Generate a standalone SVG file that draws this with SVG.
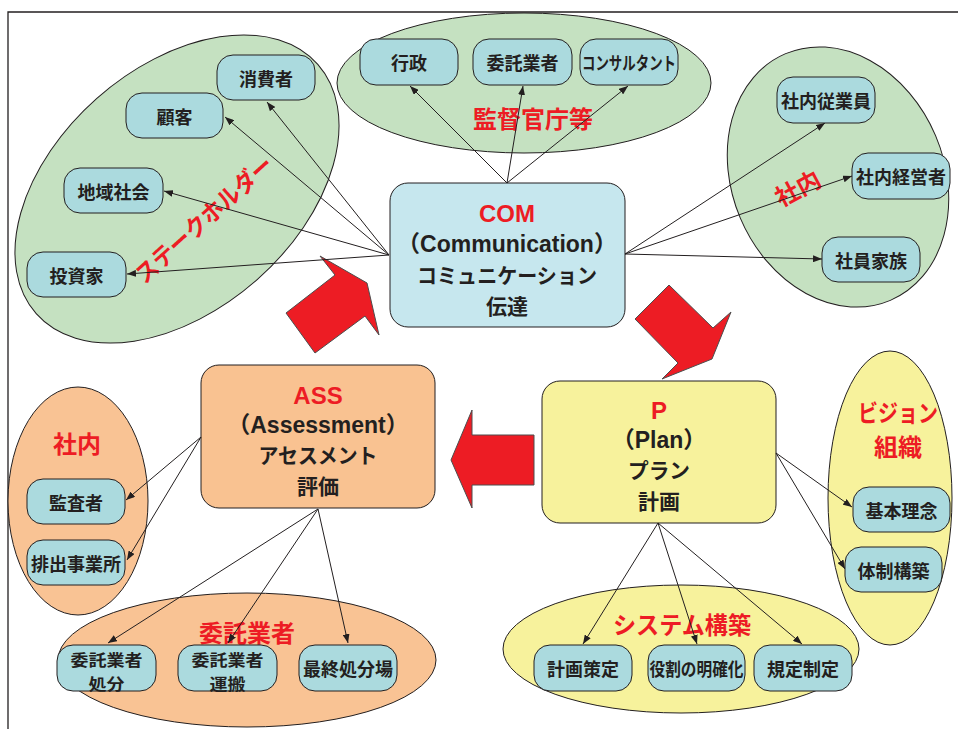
<svg xmlns="http://www.w3.org/2000/svg" width="958" height="729" viewBox="0 0 958 729">
  <defs>
    <marker id="ah" viewBox="0 0 9 7" refX="9" refY="3.5" markerWidth="9" markerHeight="7" orient="auto" markerUnits="userSpaceOnUse">
      <path d="M0,0 L9,3.5 L0,7 z" fill="#231F20"/>
    </marker>
    <style>
      .frame{fill:none;stroke:#231F20;stroke-width:1.3}
      .grp-g{fill:#C5E1C1;stroke:#231F20;stroke-width:1}
      .grp-o{fill:#F9C394;stroke:#231F20;stroke-width:1}
      .grp-y{fill:#F7F29C;stroke:#231F20;stroke-width:1}
      .node rect{fill:#ABDADE;stroke:#231F20;stroke-width:1}
      .node text{font-family:"Noto Sans CJK JP",sans-serif;font-weight:700;font-size:18px;fill:#231F20;text-anchor:middle;dominant-baseline:central}
      .node text.two{font-size:16px}
      .hub rect{stroke:#231F20;stroke-width:1}
      .hub text{font-family:"Liberation Sans","Noto Sans CJK JP",sans-serif;font-weight:700;font-size:23px;fill:#231F20;text-anchor:middle;dominant-baseline:central}
      .hub text.jp{font-family:"Noto Sans CJK JP",sans-serif;font-size:21px}
      .hub text.key{fill:#ED1C24;font-size:24px}
      .lab{font-family:"Noto Sans CJK JP",sans-serif;font-weight:700;font-size:24px;fill:#ED1C24;text-anchor:middle;dominant-baseline:central}
      .conn line{stroke:#231F20;stroke-width:1;marker-end:url(#ah)}
      .big{fill:#ED1C24;stroke:#4D4D4D;stroke-width:1}
    </style>
  </defs>

  <rect width="958" height="729" fill="#FFFFFF"/>
  <path class="frame" d="M8,729 L8,12 L958,12"/>

  <!-- grouping ellipses -->
  <g id="groups">
    <ellipse class="grp-g" cx="177" cy="189" rx="188" ry="121" transform="rotate(-41.5 177 189)"/>
    <ellipse class="grp-g" cx="524" cy="83" rx="187" ry="70"/>
    <ellipse class="grp-g" cx="838" cy="177" rx="106" ry="134" transform="rotate(-23 838 177)"/>
    <ellipse class="grp-o" cx="78" cy="501" rx="70" ry="114"/>
    <ellipse class="grp-o" cx="247" cy="660" rx="189" ry="67"/>
    <ellipse class="grp-y" cx="890" cy="498" rx="62" ry="147"/>
    <ellipse class="grp-y" cx="681" cy="649" rx="178" ry="64"/>
  </g>

  <!-- group labels -->
  <g id="labels">
    <text class="lab" x="203" y="218" textLength="176" lengthAdjust="spacingAndGlyphs" transform="rotate(-42 203 218)">ステークホルダー</text>
    <text class="lab" x="533" y="117">監督官庁等</text>
    <text class="lab" x="797" y="187" font-size="22" transform="rotate(-28 797 187)">社内</text>
    <text class="lab" x="77" y="442">社内</text>
    <text class="lab" x="247" y="631" font-size="23">委託業者</text>
    <text class="lab" x="898" y="411" font-size="23" textLength="80" lengthAdjust="spacingAndGlyphs">ビジョン</text>
    <text class="lab" x="898" y="445" font-size="23">組織</text>
    <text class="lab" x="682" y="623" textLength="138" lengthAdjust="spacingAndGlyphs">システム構築</text>
  </g>

  <!-- cycle arrows -->
  <g id="cycle">
    <polygon class="big" points="320,256 367,283 379,335 365,316 315,353 286,313 335,275"/>
    <polygon class="big" points="669,285 713,328 731,312 712,359 662,379 678,363 635,319"/>
    <polygon class="big" points="451,460 472,410 472,435 534,435 534,485 472,485 472,508"/>
  </g>

  <!-- hubs -->
  <g id="com" class="hub">
    <rect x="390" y="183" width="235" height="144" rx="18" fill="#C6E7EE"/>
    <text class="key" x="507" y="213">COM</text>
    <text x="507" y="244">（Communication）</text>
    <text class="jp" x="507" y="274" textLength="180" lengthAdjust="spacingAndGlyphs">コミュニケーション</text>
    <text class="jp" x="507" y="305">伝達</text>
  </g>
  <g id="ass" class="hub">
    <rect x="201" y="365" width="234" height="143" rx="18" fill="#F9C291"/>
    <text class="key" x="318" y="395">ASS</text>
    <text x="318" y="425">（Assessment）</text>
    <text class="jp" x="318" y="454" textLength="119" lengthAdjust="spacingAndGlyphs">アセスメント</text>
    <text class="jp" x="318" y="485">評価</text>
  </g>
  <g id="plan" class="hub">
    <rect x="542" y="381" width="234" height="142" rx="18" fill="#F7F29C"/>
    <text class="key" x="659" y="410">P</text>
    <text x="659" y="440">（Plan）</text>
    <text class="jp" x="659" y="469" textLength="62" lengthAdjust="spacingAndGlyphs">プラン</text>
    <text class="jp" x="659" y="500">計画</text>
  </g>

  <!-- connectors -->
  <g id="connectors" class="conn">
    <line x1="389" y1="255" x2="267" y2="102"/>
    <line x1="389" y1="255" x2="225" y2="117"/>
    <line x1="389" y1="255" x2="164" y2="191"/>
    <line x1="389" y1="255" x2="127" y2="274"/>
    <line x1="507" y1="183" x2="410" y2="86"/>
    <line x1="507" y1="183" x2="523" y2="86"/>
    <line x1="507" y1="183" x2="628" y2="86"/>
    <line x1="625" y1="254" x2="825" y2="123"/>
    <line x1="625" y1="254" x2="852" y2="176"/>
    <line x1="625" y1="254" x2="822" y2="259"/>
    <line x1="201" y1="437" x2="126" y2="500"/>
    <line x1="201" y1="437" x2="127" y2="560"/>
    <line x1="318" y1="509" x2="108" y2="643"/>
    <line x1="318" y1="509" x2="228" y2="643"/>
    <line x1="318" y1="509" x2="348" y2="643"/>
    <line x1="776" y1="453" x2="852" y2="507"/>
    <line x1="776" y1="453" x2="845" y2="569"/>
    <line x1="658" y1="523" x2="583" y2="644"/>
    <line x1="658" y1="523" x2="697" y2="644"/>
    <line x1="658" y1="523" x2="802" y2="644"/>
  </g>

  <!-- leaf nodes -->
  <g id="n-shohisha" class="node"><rect x="217" y="55" width="98" height="45" rx="16"/><text x="266" y="77.5">消費者</text></g>
  <g id="n-kokyaku" class="node"><rect x="126" y="93" width="97" height="45" rx="16"/><text x="174.5" y="115.5">顧客</text></g>
  <g id="n-chiiki" class="node"><rect x="64" y="168" width="99" height="45" rx="16"/><text x="113.5" y="190.5">地域社会</text></g>
  <g id="n-toshika" class="node"><rect x="27" y="252" width="99" height="45" rx="16"/><text x="76.5" y="274.5">投資家</text></g>

  <g id="n-gyosei" class="node"><rect x="360" y="39" width="98" height="46" rx="16"/><text x="409" y="62">行政</text></g>
  <g id="n-itaku" class="node"><rect x="473" y="39" width="99" height="46" rx="16"/><text x="522.5" y="62">委託業者</text></g>
  <g id="n-consul" class="node"><rect x="580" y="39" width="98" height="46" rx="16"/><text x="629" y="62" textLength="94" lengthAdjust="spacingAndGlyphs">コンサルタント</text></g>

  <g id="n-jugyoin" class="node"><rect x="777" y="77" width="98" height="46" rx="16"/><text x="826" y="100">社内従業員</text></g>
  <g id="n-keiei" class="node"><rect x="852" y="153" width="98" height="46" rx="16"/><text x="901" y="176">社内経営者</text></g>
  <g id="n-kazoku" class="node"><rect x="822" y="237" width="98" height="45" rx="16"/><text x="871" y="259.5">社員家族</text></g>

  <g id="n-kansa" class="node"><rect x="27" y="479" width="98" height="45" rx="16"/><text x="76" y="501.5">監査者</text></g>
  <g id="n-haishutsu" class="node"><rect x="27" y="540" width="98" height="45" rx="16"/><text x="76" y="562.5">排出事業所</text></g>

  <g id="n-shobun" class="node"><rect x="57" y="645" width="99" height="46" rx="16"/><text class="two" x="106.5" y="659" textLength="72" lengthAdjust="spacingAndGlyphs">委託業者</text><text class="two" x="106.5" y="682.5" textLength="36" lengthAdjust="spacingAndGlyphs">処分</text></g>
  <g id="n-unpan" class="node"><rect x="178" y="645" width="99" height="46" rx="16"/><text class="two" x="227.5" y="659" textLength="72" lengthAdjust="spacingAndGlyphs">委託業者</text><text class="two" x="227.5" y="682.5" textLength="36" lengthAdjust="spacingAndGlyphs">運搬</text></g>
  <g id="n-saishu" class="node"><rect x="299" y="645" width="98" height="46" rx="16"/><text x="348" y="668">最終処分場</text></g>

  <g id="n-rinen" class="node"><rect x="853" y="487" width="97" height="45" rx="16"/><text x="901.5" y="509.5">基本理念</text></g>
  <g id="n-taisei" class="node"><rect x="845" y="547" width="97" height="45" rx="16"/><text x="893.5" y="569.5">体制構築</text></g>

  <g id="n-sakutei" class="node"><rect x="534" y="645" width="98" height="46" rx="16"/><text x="583" y="668">計画策定</text></g>
  <g id="n-yakuwari" class="node"><rect x="648" y="645" width="97" height="46" rx="16"/><text x="696.5" y="668" textLength="94" lengthAdjust="spacingAndGlyphs">役割の明確化</text></g>
  <g id="n-kitei" class="node"><rect x="754" y="645" width="98" height="46" rx="16"/><text x="803" y="668">規定制定</text></g>
</svg>
